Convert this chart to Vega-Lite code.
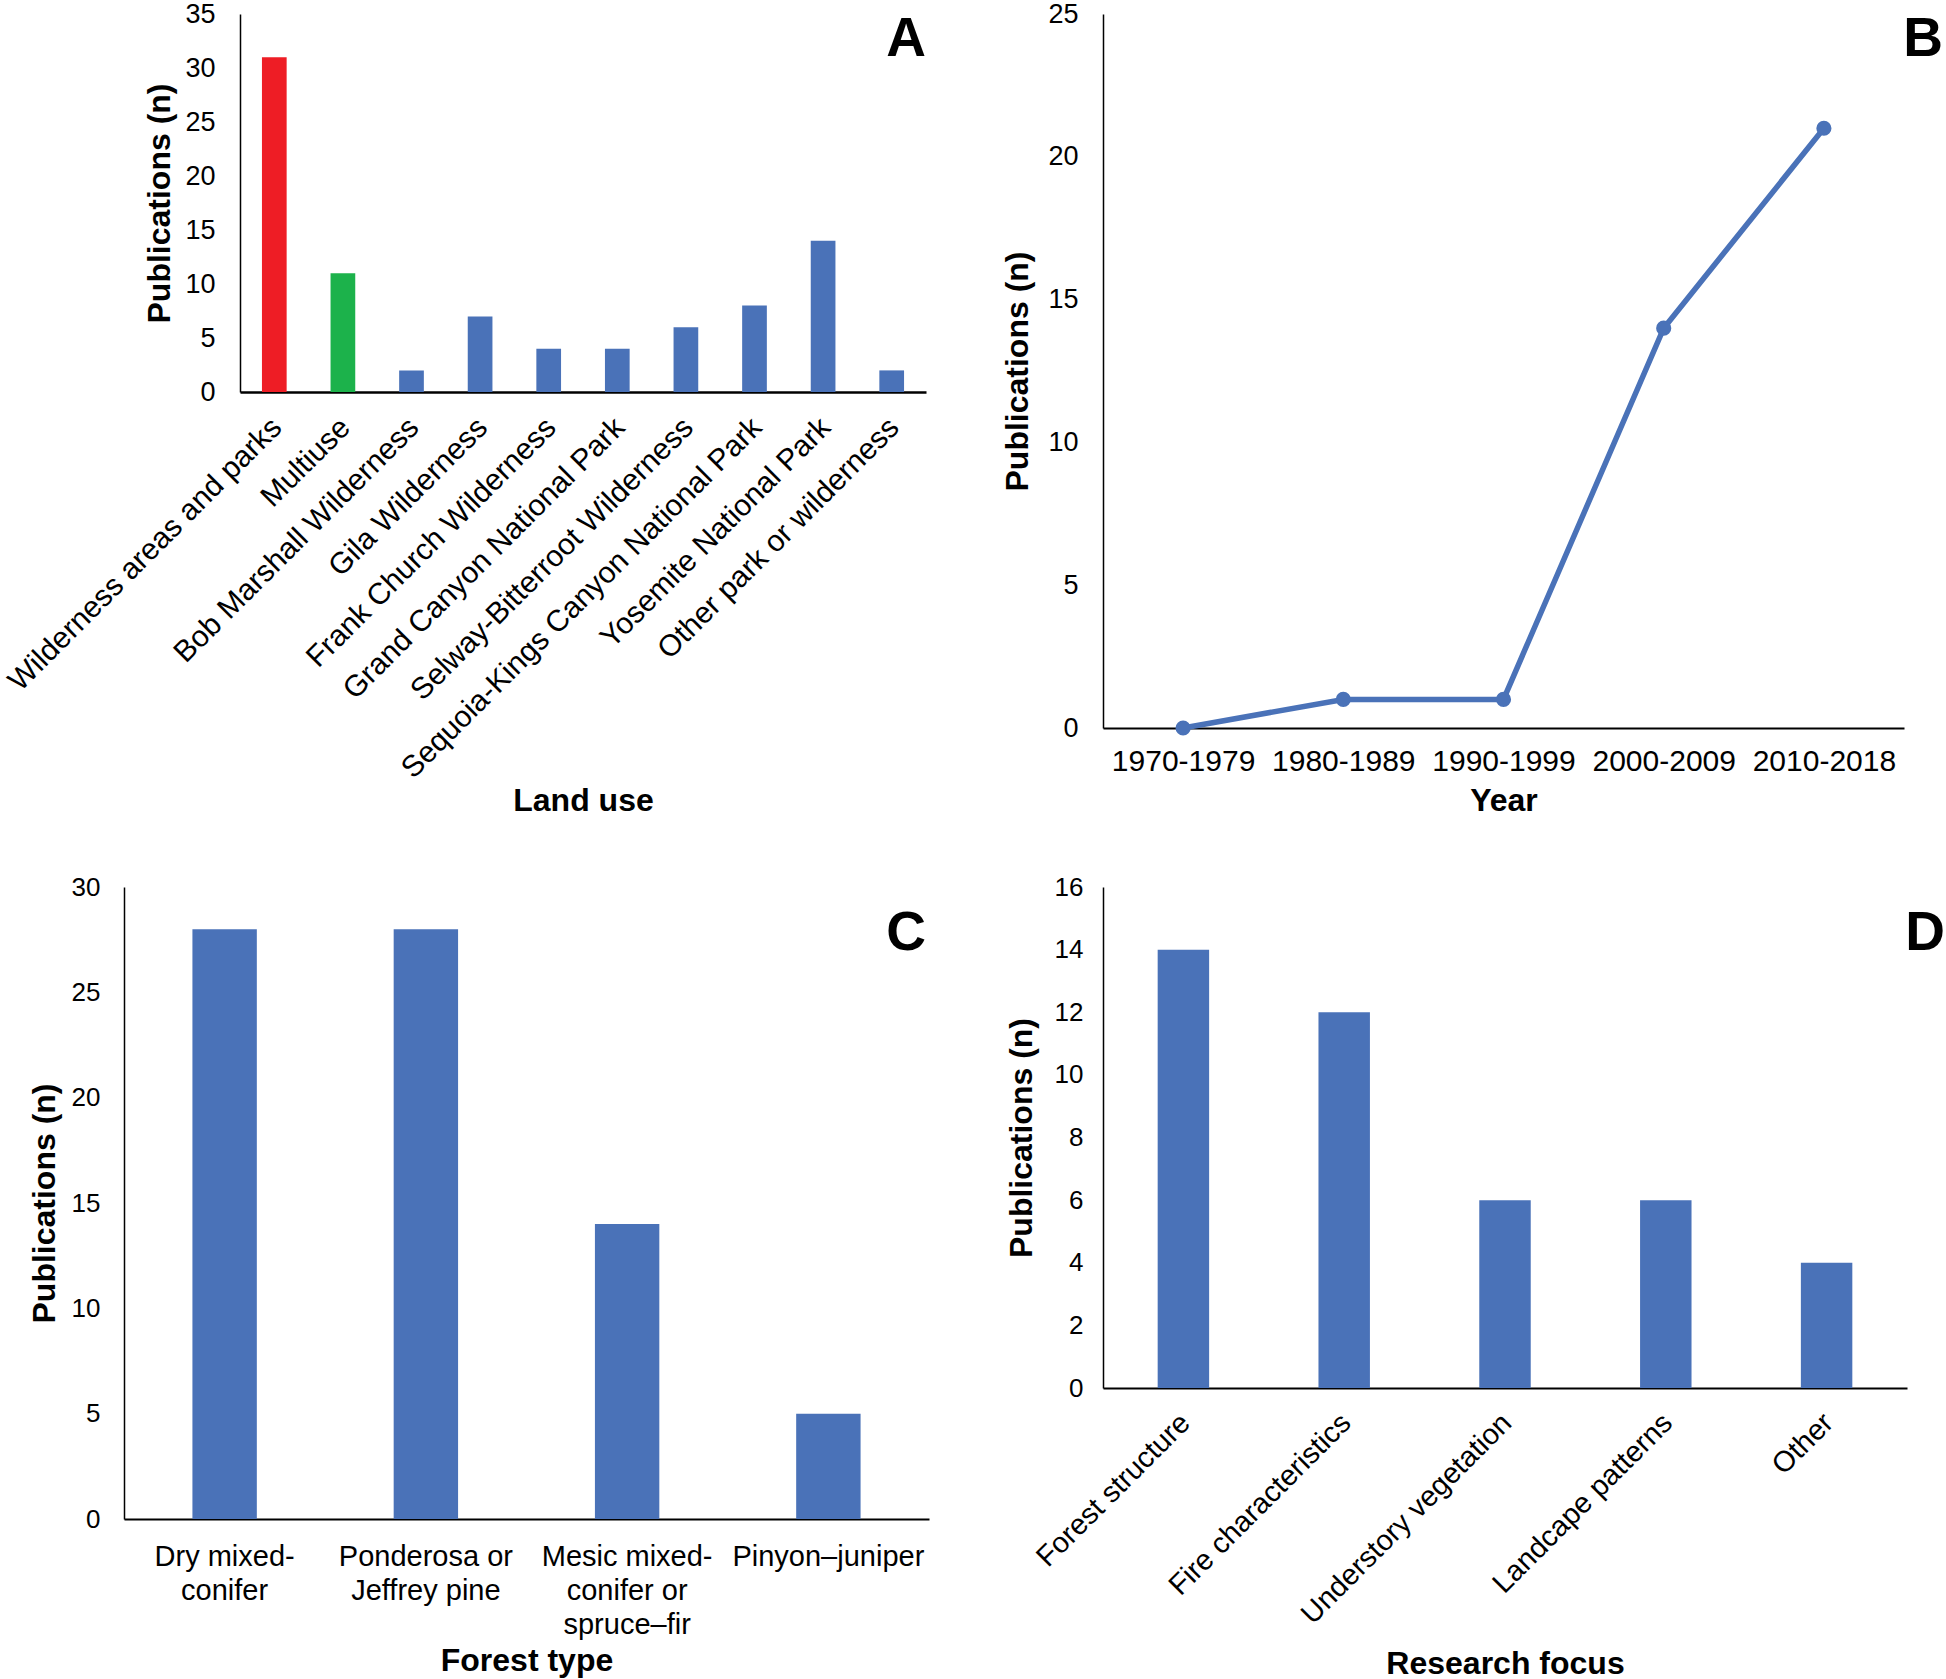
{
  "$schema": "https://vega.github.io/schema/vega-lite/v6.json",
  "autosize": {"type": "pad"},
  "padding": {"left": 2, "top": 0, "right": 0, "bottom": 0},
  "background": "white",
  "bounds": "flush",
  "align": "all",
  "columns": 2,
  "spacing": {"row": 159, "column": 174},
  "config": {
    "view": {"stroke": null},
    "font": "Liberation Sans",
    "axis": {
      "grid": false,
      "ticks": false,
      "domainColor": "#000000",
      "domainWidth": 1.5,
      "labelColor": "#000000",
      "titleColor": "#000000",
      "labelFont": "Liberation Sans",
      "titleFont": "Liberation Sans",
      "titleFontWeight": "bold",
      "titleFontSize": 32,
      "labelFontSize": 26,
      "labelLimit": 0
    },
    "axisX": {"labelFontSize": 29, "domainWidth": 2},
    "title": {"font": "Liberation Sans", "fontWeight": "bold", "fontSize": 55, "color": "#000000", "anchor": "end", "frame": "group", "baseline": "alphabetic", "offset": 0}
  },
  "concat": [
    {
      "width": 805,
      "height": 378,
      "title": {"text": "A", "dy": 72, "dx": -3},
      "data": {"values": [
        {"land_use": "Wilderness areas and parks", "n": 31},
        {"land_use": "Multiuse", "n": 11},
        {"land_use": "Bob Marshall Wilderness", "n": 2},
        {"land_use": "Gila  Wilderness", "n": 7},
        {"land_use": "Frank Church Wilderness", "n": 4},
        {"land_use": "Grand Canyon National Park", "n": 4},
        {"land_use": "Selway-Bitterroot Wilderness", "n": 6},
        {"land_use": "Sequoia-Kings Canyon National Park", "n": 8},
        {"land_use": "Yosemite National Park", "n": 14},
        {"land_use": "Other park or wilderness", "n": 2}
      ]},
      "mark": {"type": "bar"},
      "encoding": {
        "x": {
          "field": "land_use", "type": "nominal", "sort": null,
          "scale": {"range": [116, 802], "paddingInner": 0.64, "paddingOuter": 0.32},
          "axis": {"title": "Land use", "labelAngle": -45, "labelFontSize": 30, "labelPadding": 20, "labelOffset": -8, "titlePadding": 193, "domainWidth": 2.5}
        },
        "y": {
          "field": "n", "type": "quantitative",
          "scale": {"domain": [0, 35]},
          "axis": {"title": "Publications (n)", "offset": -116, "values": [0, 5, 10, 15, 20, 25, 30, 35], "labelFontSize": 27, "labelPadding": 25, "titlePadding": 8}
        },
        "color": {
          "field": "land_use", "type": "nominal", "legend": null,
          "scale": {
            "domain": ["Wilderness areas and parks", "Multiuse", "Bob Marshall Wilderness", "Gila  Wilderness", "Frank Church Wilderness", "Grand Canyon National Park", "Selway-Bitterroot Wilderness", "Sequoia-Kings Canyon National Park", "Yosemite National Park", "Other park or wilderness"],
            "range": ["#EE1D25", "#1CB24B", "#4A72B8", "#4A72B8", "#4A72B8", "#4A72B8", "#4A72B8", "#4A72B8", "#4A72B8", "#4A72B8"]
          }
        }
      }
    },
    {
      "width": 801,
      "height": 714,
      "title": {"text": "B", "dy": 72, "dx": 39},
      "data": {"values": [
        {"decade": "1970-1979", "n": 0},
        {"decade": "1980-1989", "n": 1},
        {"decade": "1990-1999", "n": 1},
        {"decade": "2000-2009", "n": 14},
        {"decade": "2010-2018", "n": 21}
      ]},
      "mark": {"type": "line", "color": "#4A72B8", "strokeWidth": 5.5, "point": {"filled": true, "size": 230, "color": "#4A72B8"}},
      "encoding": {
        "x": {
          "field": "decade", "type": "ordinal", "sort": null,
          "scale": {"type": "point", "padding": 0.5},
          "axis": {"title": "Year", "labelAngle": 0, "labelFontSize": 30, "labelPadding": 18, "titlePadding": 9}
        },
        "y": {
          "field": "n", "type": "quantitative",
          "scale": {"domain": [0, 25]},
          "axis": {"title": "Publications (n)", "values": [0, 5, 10, 15, 20, 25], "labelFontSize": 27, "labelPadding": 25, "titlePadding": 13}
        }
      }
    },
    {
      "width": 805,
      "height": 632,
      "title": {"text": "C", "dy": 92, "dx": -3},
      "data": {"values": [
        {"forest_type": "Dry mixed-conifer", "n": 28},
        {"forest_type": "Ponderosa or Jeffrey pine", "n": 28},
        {"forest_type": "Mesic mixed-conifer or spruce–fir", "n": 14},
        {"forest_type": "Pinyon–juniper", "n": 5}
      ]},
      "mark": {"type": "bar", "color": "#4A72B8"},
      "encoding": {
        "x": {
          "field": "forest_type", "type": "nominal", "sort": null,
          "scale": {"paddingInner": 0.68, "paddingOuter": 0.34},
          "axis": {
            "title": "Forest type", "labelAngle": 0, "labelPadding": 23, "titlePadding": 6, "labelLineHeight": 34,
            "labelExpr": "datum.label == 'Dry mixed-conifer' ? ['Dry mixed-', 'conifer'] : datum.label == 'Ponderosa or Jeffrey pine' ? ['Ponderosa or', 'Jeffrey pine'] : datum.label == 'Mesic mixed-conifer or spruce–fir' ? ['Mesic mixed-', 'conifer or', 'spruce–fir'] : datum.label"
          }
        },
        "y": {
          "field": "n", "type": "quantitative",
          "scale": {"domain": [0, 30]},
          "axis": {"title": "Publications (n)", "values": [0, 5, 10, 15, 20, 25, 30], "labelPadding": 24, "titlePadding": 10}
        }
      }
    },
    {
      "width": 804,
      "height": 501,
      "title": {"text": "D", "dy": 92, "dx": 38},
      "data": {"values": [
        {"focus": "Forest structure", "n": 14},
        {"focus": "Fire characteristics", "n": 12},
        {"focus": "Understory vegetation", "n": 6},
        {"focus": "Landcape patterns", "n": 6},
        {"focus": "Other", "n": 4}
      ]},
      "mark": {"type": "bar", "color": "#4A72B8"},
      "encoding": {
        "x": {
          "field": "focus", "type": "nominal", "sort": null,
          "scale": {"paddingInner": 0.68, "paddingOuter": 0.34},
          "axis": {"title": "Research focus", "labelAngle": -45, "labelPadding": 20, "labelOffset": -8, "titlePadding": 60}
        },
        "y": {
          "field": "n", "type": "quantitative",
          "scale": {"domain": [0, 16]},
          "axis": {"title": "Publications (n)", "values": [0, 2, 4, 6, 8, 10, 12, 14, 16], "labelPadding": 20, "titlePadding": 16}
        }
      }
    }
  ]
}
